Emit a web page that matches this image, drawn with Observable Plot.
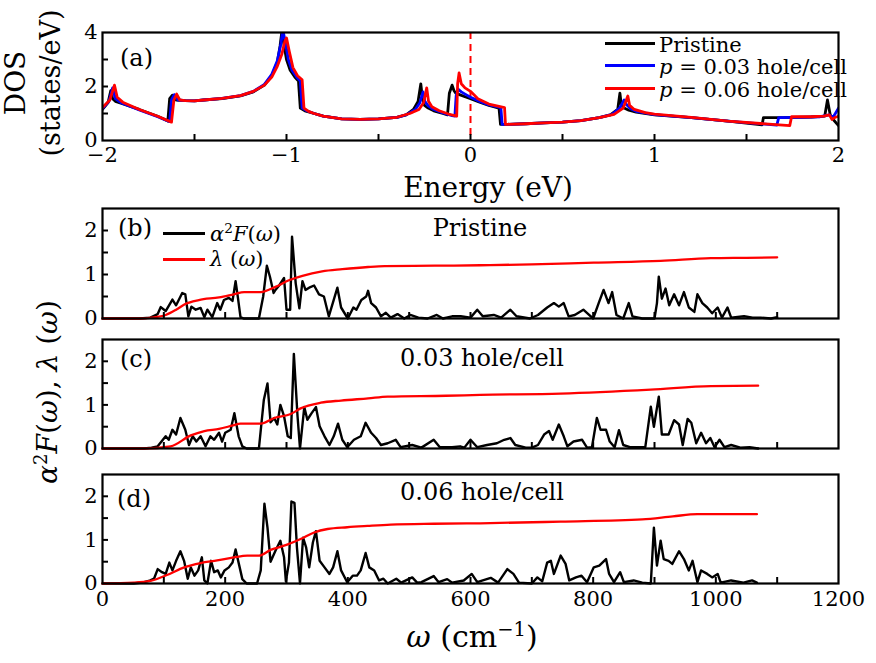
<!DOCTYPE html>
<html><head><meta charset="utf-8">
<script src="https://cdn.jsdelivr.net/npm/d3@7"></script>
<script src="https://cdn.jsdelivr.net/npm/@observablehq/plot@0.6"></script>
<style>
body{margin:0;background:#fff;}
#fig{position:relative;width:876px;height:663px;font-family:"DejaVu Serif",serif;color:#000;overflow:hidden;}
.panel{position:absolute;left:0;}
.lbl{position:absolute;white-space:nowrap;line-height:1;}
.key{position:absolute;height:3px;}
</style></head><body><div id="fig"></div>
<script>
// ---------- DATA ----------
// Panel (a): DOS (states/eV) vs energy (eV), [energy, dos]
const dosNames = ["Pristine", "p = 0.03 hole/cell", "p = 0.06 hole/cell"];
const dosColors = ["#000000", "#0000ff", "#ff0000"];
const dosPristine = [[-2.0,1.15],[-1.97,1.4],[-1.955,1.85],[-1.945,1.55],[-1.93,1.45],[-1.9,1.38],[-1.8,1.15],[-1.7,0.9],[-1.645,0.72],[-1.635,1.55],[-1.62,1.68],[-1.6,1.5],[-1.55,1.48],[-1.5,1.47],[-1.45,1.5],[-1.35,1.55],[-1.25,1.65],[-1.18,1.8],[-1.12,2.05],[-1.08,2.4],[-1.05,2.9],[-1.035,3.5],[-1.025,4.05],[-1.015,3.6],[-1.0,3.0],[-0.98,2.6],[-0.955,2.35],[-0.935,2.2],[-0.925,1.2],[-0.9,1.1],[-0.85,1.0],[-0.8,0.9],[-0.7,0.8],[-0.6,0.78],[-0.5,0.8],[-0.4,0.86],[-0.35,0.95],[-0.31,1.15],[-0.285,1.45],[-0.27,2.1],[-0.262,1.6],[-0.25,1.3],[-0.23,1.2],[-0.2,1.1],[-0.15,1.0],[-0.125,0.95],[-0.115,1.75],[-0.1,2.05],[-0.09,1.85],[-0.08,1.75],[-0.06,1.7],[-0.03,1.62],[0.0,1.55],[0.05,1.42],[0.1,1.3],[0.155,1.2],[0.163,0.6],[0.2,0.6],[0.3,0.62],[0.4,0.65],[0.5,0.68],[0.6,0.74],[0.7,0.85],[0.76,0.95],[0.8,1.15],[0.812,1.75],[0.82,1.3],[0.835,1.2],[0.86,1.12],[0.9,1.05],[1.0,0.95],[1.2,0.85],[1.4,0.72],[1.585,0.58],[1.592,0.85],[1.7,0.85],[1.85,0.87],[1.925,0.9],[1.94,1.5],[1.955,0.95],[1.975,0.75],[2.0,0.55]];
const dosHole003 = [[-2.0,1.18],[-1.965,1.45],[-1.945,1.95],[-1.93,1.55],[-1.9,1.4],[-1.8,1.13],[-1.7,0.88],[-1.635,0.7],[-1.625,1.5],[-1.61,1.7],[-1.59,1.5],[-1.55,1.48],[-1.5,1.47],[-1.45,1.5],[-1.35,1.56],[-1.25,1.66],[-1.18,1.82],[-1.12,2.08],[-1.08,2.45],[-1.05,2.95],[-1.03,3.6],[-1.02,4.1],[-1.008,3.7],[-0.99,3.0],[-0.97,2.6],[-0.945,2.35],[-0.925,2.2],[-0.915,1.2],[-0.89,1.1],[-0.85,1.0],[-0.8,0.9],[-0.7,0.8],[-0.6,0.78],[-0.5,0.8],[-0.4,0.86],[-0.35,0.95],[-0.3,1.15],[-0.275,1.4],[-0.258,1.8],[-0.248,1.45],[-0.23,1.28],[-0.2,1.15],[-0.15,1.02],[-0.1,0.92],[-0.085,0.9],[-0.078,1.65],[-0.068,1.9],[-0.05,1.8],[-0.02,1.68],[0.0,1.6],[0.05,1.45],[0.1,1.32],[0.165,1.22],[0.172,0.6],[0.2,0.6],[0.3,0.62],[0.4,0.65],[0.5,0.68],[0.6,0.74],[0.7,0.85],[0.77,0.97],[0.81,1.2],[0.835,1.5],[0.845,1.35],[0.87,1.18],[0.9,1.08],[1.0,0.96],[1.2,0.85],[1.4,0.72],[1.665,0.57],[1.675,0.85],[1.8,0.86],[1.9,0.88],[1.95,0.95],[1.97,0.85],[2.0,1.2]];
const dosHole006 = [[-2.0,1.22],[-1.96,1.5],[-1.935,2.05],[-1.92,1.6],[-1.89,1.42],[-1.8,1.15],[-1.7,0.9],[-1.625,0.68],[-1.612,1.5],[-1.597,1.72],[-1.58,1.5],[-1.55,1.48],[-1.5,1.47],[-1.45,1.5],[-1.35,1.56],[-1.25,1.66],[-1.18,1.82],[-1.12,2.05],[-1.08,2.35],[-1.05,2.75],[-1.025,3.2],[-1.01,3.65],[-1.0,3.8],[-0.985,3.3],[-0.965,2.7],[-0.94,2.4],[-0.915,2.25],[-0.905,1.2],[-0.88,1.08],[-0.85,1.0],[-0.8,0.9],[-0.7,0.8],[-0.6,0.78],[-0.5,0.8],[-0.4,0.86],[-0.33,1.0],[-0.28,1.15],[-0.255,1.4],[-0.238,1.95],[-0.228,1.45],[-0.21,1.25],[-0.17,1.1],[-0.12,0.98],[-0.075,0.9],[-0.07,2.1],[-0.062,2.5],[-0.05,2.1],[-0.03,1.95],[0.0,1.82],[0.04,1.55],[0.1,1.35],[0.185,1.22],[0.19,0.6],[0.2,0.6],[0.3,0.62],[0.4,0.65],[0.5,0.68],[0.6,0.74],[0.7,0.85],[0.78,0.97],[0.83,1.2],[0.855,1.65],[0.865,1.3],[0.89,1.15],[0.95,1.03],[1.0,0.98],[1.2,0.86],[1.4,0.72],[1.735,0.55],[1.745,0.88],[1.85,0.88],[1.92,0.9],[1.95,0.95],[1.965,0.78],[1.98,0.85],[2.0,0.9]];
const energyTickLabels = [-2, -1, 0, 1, 2];
const energyMinorTicks = [-1.5, -1, -0.5, 0, 0.5, 1, 1.5];
const dosTickLabels = [0, 2, 4];
const dosMinorTicks = [1, 2, 3];

// Panels (b)-(d): Eliashberg function a2F(w) and lambda(w), [omega (cm^-1), value]
const a2fPristine = [[0,0],[60,0],[78,0.02],[90,0.1],[95,0.26],[103,0.17],[114,0.43],[120,0.3],[130,0.58],[135,0.55],[140,0.05],[145,0.27],[152,0.2],[160,0.24],[166,0.03],[171,0.2],[179,0.03],[187,0.35],[192,0.2],[198,0.42],[206,0.47],[212,0.4],[217,0.85],[221,0.45],[225,0.03],[230,0],[255,0],[262,0.5],[268,1.2],[273,0.95],[279,0.58],[282,0.65],[288,0.75],[296,0.92],[300,0.2],[306,0.2],[309,1.86],[315,0.8],[321,0.23],[326,0.85],[331,0.65],[337,0.7],[345,0.75],[353,0.55],[361,0.5],[369,0.05],[378,0.47],[383,0.7],[389,0.25],[400,0],[409,0.25],[414,0.2],[422,0.42],[430,0.5],[433,0.63],[438,0.35],[446,0.25],[454,0.05],[462,0.13],[470,0.02],[481,0.1],[492,0],[502,0.08],[515,0.02],[530,0],[545,0.08],[555,0],[570,0.05],[584,0.05],[600,0.02],[611,0.2],[620,0.05],[638,0.08],[650,0.02],[665,0.2],[675,0.05],[697,0],[710,0.08],[725,0.25],[736,0.35],[744,0.27],[752,0.35],[760,0.05],[770,0.08],[784,0.2],[792,0.1],[800,0],[809,0.35],[817,0.65],[825,0.35],[831,0.6],[838,0.08],[849,0],[858,0.35],[864,0.05],[880,0],[900,0],[904,0.35],[907,0.95],[912,0.45],[918,0.68],[924,0.3],[932,0.55],[940,0.3],[948,0.6],[956,0.25],[965,0.15],[970,0.55],[978,0.35],[986,0.25],[994,0.12],[1003,0.25],[1010,0.02],[1019,0.25],[1025,0.02],[1046,0.05],[1060,0.02],[1073,0.02],[1090,0],[1100,0.03]];
const lambdaPristine = [[0,0],[60,0],[80,0.02],[103,0.08],[120,0.2],[135,0.33],[157,0.42],[190,0.48],[214,0.55],[231,0.6],[258,0.6],[282,0.72],[304,0.87],[326,0.97],[358,1.07],[391,1.12],[433,1.17],[460,1.19],[542,1.2],[616,1.21],[700,1.23],[801,1.27],[910,1.31],[992,1.37],[1050,1.38],[1100,1.39]];
const a2fHole003 = [[0,0],[68,0],[80,0.02],[90,0.05],[103,0.28],[108,0.2],[114,0.43],[120,0.32],[127,0.7],[135,0.43],[141,0.08],[147,0.28],[153,0.16],[160,0.28],[168,0.05],[176,0.28],[182,0.2],[190,0.36],[195,0.16],[200,0.36],[209,0.43],[215,0.81],[222,0.28],[228,0.05],[235,0],[255,0],[263,1.11],[269,1.49],[274,0.6],[280,0.7],[285,0.55],[290,1.0],[296,0.74],[302,0.28],[307,0.24],[312,2.17],[318,0.74],[322,0],[329,0.95],[334,0.66],[341,0.81],[348,0.95],[354,0.51],[362,0.28],[370,0.08],[377,0.28],[384,0.57],[391,0.2],[399,0.03],[410,0.2],[421,0.28],[429,0.59],[438,0.36],[446,0.24],[454,0.08],[465,0.12],[478,0.2],[486,0.03],[505,0.08],[520,0.02],[540,0.2],[550,0.03],[570,0.03],[583,0.05],[590,0.02],[600,0.2],[611,0.03],[627,0.08],[643,0.12],[655,0.2],[665,0.24],[673,0.08],[690,0.02],[700,0.02],[710,0.08],[720,0.32],[728,0.4],[734,0.2],[744,0.55],[752,0.28],[758,0.05],[768,0.16],[782,0.2],[790,0.02],[798,0.03],[806,0.7],[812,0.43],[821,0.43],[827,0.16],[835,0.03],[842,0.42],[849,0.08],[860,0.03],[885,0.03],[894,0.96],[899,0.5],[907,1.19],[912,0.32],[923,0.32],[932,0.65],[940,0.55],[946,0.08],[954,0.68],[960,0.59],[968,0.12],[976,0.36],[984,0.12],[991,0.24],[998,0.03],[1006,0.2],[1014,0.03],[1025,0.08],[1040,0.02],[1055,0.03],[1069,0]];
const lambdaHole003 = [[0,0],[68,0],[111,0.05],[144,0.3],[166,0.4],[190,0.45],[213,0.53],[225,0.57],[258,0.57],[280,0.7],[307,0.79],[323,0.92],[356,1.05],[389,1.1],[433,1.15],[465,1.19],[560,1.21],[616,1.23],[747,1.26],[894,1.35],[992,1.43],[1069,1.44]];
const a2fHole006 = [[0,0],[51,0],[68,0.03],[78,0.07],[84,0.11],[90,0.33],[97,0.26],[103,0.22],[109,0.48],[114,0.3],[120,0.52],[127,0.74],[133,0.52],[139,0.11],[144,0.37],[150,0.18],[156,0.3],[162,0.6],[166,0.07],[171,0],[177,0.52],[182,0.26],[188,0.3],[193,0.14],[199,0.3],[206,0.37],[212,0.48],[217,0.78],[223,0.41],[228,0.1],[235,0],[252,0],[258,0.3],[264,1.83],[269,1.28],[274,0.5],[282,0.75],[290,0.98],[296,0.6],[299,0.05],[304,0.48],[308,1.88],[313,1.85],[317,0.83],[322,0],[327,1.05],[332,0.83],[337,0.37],[343,0.94],[348,1.2],[354,0.52],[362,0.37],[370,0.22],[376,0.37],[383,0.74],[389,0.3],[399,0.03],[408,0.18],[415,0.18],[421,0.3],[429,0.7],[435,0.37],[443,0.3],[451,0.07],[458,0.11],[465,0],[479,0.11],[487,0.02],[505,0.14],[513,0.02],[520,0.03],[540,0.17],[548,0.03],[562,0.1],[570,0.02],[589,0.07],[602,0.22],[611,0.03],[633,0.13],[645,0.02],[660,0.33],[670,0.22],[679,0.02],[700,0],[709,0.14],[717,0.05],[725,0.48],[731,0.52],[736,0.22],[747,0.64],[755,0.45],[761,0.07],[772,0.14],[781,0.18],[790,0.03],[801,0.37],[810,0.41],[821,0.56],[826,0.22],[834,0.03],[844,0.26],[850,0.03],[866,0.07],[880,0.02],[894,0],[899,1.28],[904,0.41],[910,0.98],[915,0.56],[923,0.52],[929,0.45],[940,0.74],[948,0.56],[956,0.3],[962,0.52],[970,0.03],[976,0.3],[986,0.22],[994,0.14],[1003,0.22],[1008,0.02],[1025,0.07],[1045,0.02],[1059,0.07],[1067,0.02]];
const lambdaHole006 = [[0,0],[51,0.02],[78,0.06],[106,0.2],[133,0.37],[160,0.47],[187,0.53],[214,0.6],[236,0.64],[255,0.64],[274,0.77],[301,0.89],[323,1.02],[345,1.17],[367,1.25],[399,1.29],[432,1.32],[470,1.35],[540,1.37],[616,1.38],[747,1.42],[880,1.47],[930,1.54],[970,1.59],[1067,1.59]];
const omegaTickLabels = [0, 200, 400, 600, 800, 1000, 1200];
const omegaMinorTicks = [100, 200, 300, 400, 500, 600, 700, 800, 900, 1000, 1100];
const a2fTickLabels = [0, 1, 2];
const a2fMinorTicks = [0.5, 1, 1.5, 2];
const panelTitles = ["Pristine", "0.03 hole/cell", "0.06 hole/cell"];
const panelLetters = ["(a)", "(b)", "(c)", "(d)"];

// ---------- DRAW ----------
const fig = document.getElementById("fig");
const FONT = "DejaVu Serif";
const baseStyle = {fontFamily: FONT, fontSize: "21px", background: "transparent", color: "#000", overflow: "visible"};
const empty = () => "";
const intFmt = d3.format("d");

function place(node, top) {
  node.classList.add("panel");
  node.style.top = top + "px";
  fig.appendChild(node);
}
function label(html, x, y, size, {anchor = "middle"} = {}) {
  const d = document.createElement("div");
  d.className = "lbl";
  d.innerHTML = html;
  d.style.fontSize = size + "px";
  d.style.left = x + "px";
  d.style.top = y + "px";
  const tx = anchor === "middle" ? "-50%" : "0";
  d.style.transform = `translate(${tx},-50%)`;
  fig.appendChild(d);
  return d;
}
function rlabel(html, cx, cy, size) {
  const d = document.createElement("div");
  d.className = "lbl";
  d.innerHTML = html;
  d.style.fontSize = size + "px";
  d.style.left = cx + "px";
  d.style.top = cy + "px";
  d.style.transform = "translate(-50%,-50%) rotate(-90deg)";
  fig.appendChild(d);
}
function key(color, x1, x2, y) {
  const d = document.createElement("div");
  d.className = "key";
  d.style.background = color;
  d.style.left = x1 + "px";
  d.style.width = (x2 - x1) + "px";
  d.style.top = (y - 1.5) + "px";
  fig.appendChild(d);
}

// Panel (a)
const dosRows = [dosPristine, dosHole003, dosHole006].flatMap((arr, i) =>
  arr.map(([e, v]) => ({e, v, s: dosNames[i]})));
const plotA = Plot.plot({
  width: 876, height: 200,
  marginLeft: 102, marginRight: 38, marginTop: 32, marginBottom: 60,
  x: {domain: [-2, 2]},
  y: {domain: [0, 4]},
  color: {domain: dosNames, range: dosColors},
  style: baseStyle,
  marks: [
    Plot.ruleX([0], {stroke: "#ff0000", strokeWidth: 2, strokeDasharray: "7,5"}),
    Plot.line(dosRows, {x: "e", y: "v", z: "s", stroke: "s", strokeWidth: 2.8, clip: true}),
    Plot.axisX(energyMinorTicks, {tickSize: -6, tickFormat: empty, strokeWidth: 2, label: null}),
    Plot.axisX(energyTickLabels, {tickSize: 0, tickPadding: 7, fontSize: 21, tickFormat: intFmt, label: null}),
    Plot.axisY(dosMinorTicks, {tickSize: -6, tickFormat: empty, strokeWidth: 2, label: null}),
    Plot.axisY(dosTickLabels, {tickSize: 0, tickPadding: 5, fontSize: 21, tickFormat: intFmt, label: null}),
    Plot.frame({stroke: "#000", strokeWidth: 2.2})
  ]
});
place(plotA, 0);

// Panels (b)-(d)
const phonon = [
  {a2f: a2fPristine, lam: lambdaPristine, top: 200, height: 130, mt: 8, mb: 12, labels: false},
  {a2f: a2fHole003, lam: lambdaHole003, top: 330, height: 130, mt: 9, mb: 12, labels: false},
  {a2f: a2fHole006, lam: lambdaHole006, top: 460, height: 203, mt: 14, mb: 80, labels: true}
];
phonon.forEach(p => {
  const a2fRows = p.a2f.map(([w, v]) => ({w, v}));
  const lamRows = p.lam.map(([w, v]) => ({w, v}));
  const marks = [
    Plot.line(a2fRows, {x: "w", y: "v", stroke: "#000", strokeWidth: 2.4}),
    Plot.line(lamRows, {x: "w", y: "v", stroke: "#ff0000", strokeWidth: 2.3, curve: "monotone-x"}),
    Plot.axisX(omegaMinorTicks, {tickSize: -6, tickFormat: empty, strokeWidth: 2, label: null}),
    Plot.axisY(a2fMinorTicks, {tickSize: -6, tickFormat: empty, strokeWidth: 2, label: null}),
    Plot.axisY(a2fTickLabels, {tickSize: 0, tickPadding: 5, fontSize: 21, tickFormat: intFmt, label: null}),
    Plot.frame({stroke: "#000", strokeWidth: 2.2})
  ];
  if (p.labels) marks.push(Plot.axisX(omegaTickLabels, {tickSize: 0, tickPadding: 8, fontSize: 21, tickFormat: intFmt, label: null}));
  const pl = Plot.plot({
    width: 876, height: p.height,
    marginLeft: 102, marginRight: 38, marginTop: p.mt, marginBottom: p.mb,
    x: {domain: [0, 1200]},
    y: {domain: [0, 2.5]},
    style: baseStyle,
    marks
  });
  place(pl, p.top);
});

// ---------- TEXT ----------
rlabel("DOS", 16, 83, 28);
rlabel("(states/eV)", 50, 83, 27);
label("Energy (eV)", 488, 188, 28);
rlabel("<i>α</i><sup style='font-size:0.65em'>2</sup><i>F</i>(<i>ω</i>), <i>λ</i> (<i>ω</i>)", 47, 392, 28);
label("<i>ω</i> (cm<sup style='font-size:0.65em'>−1</sup>)", 472, 636, 30);

label(panelLetters[0], 120, 58, 24, {anchor: "start"});
label(panelLetters[1], 118, 228, 24, {anchor: "start"});
label(panelLetters[2], 120, 359, 24, {anchor: "start"});
label(panelLetters[3], 117, 499, 24, {anchor: "start"});

label(panelTitles[0], 480, 228, 24);
label(panelTitles[1], 482, 358, 24);
label(panelTitles[2], 482, 492, 24);

// Legend (a)
const legY = [43, 65, 88];
legY.forEach((y, i) => key(dosColors[i], 605, 655, y));
label("Pristine", 659, 45, 21, {anchor: "start"});
label("<i>p</i> = 0.03 hole/cell", 659, 67, 21, {anchor: "start"});
label("<i>p</i> = 0.06 hole/cell", 659, 90, 21, {anchor: "start"});

// Legend (b)
key("#000000", 163, 205, 233);
key("#ff0000", 163, 205, 259);
label("<i>α</i><sup style='font-size:0.65em'>2</sup><i>F</i>(<i>ω</i>)", 210, 233, 21, {anchor: "start"});
label("<i>λ</i> (<i>ω</i>)", 210, 259, 21, {anchor: "start"});
</script></body></html>
